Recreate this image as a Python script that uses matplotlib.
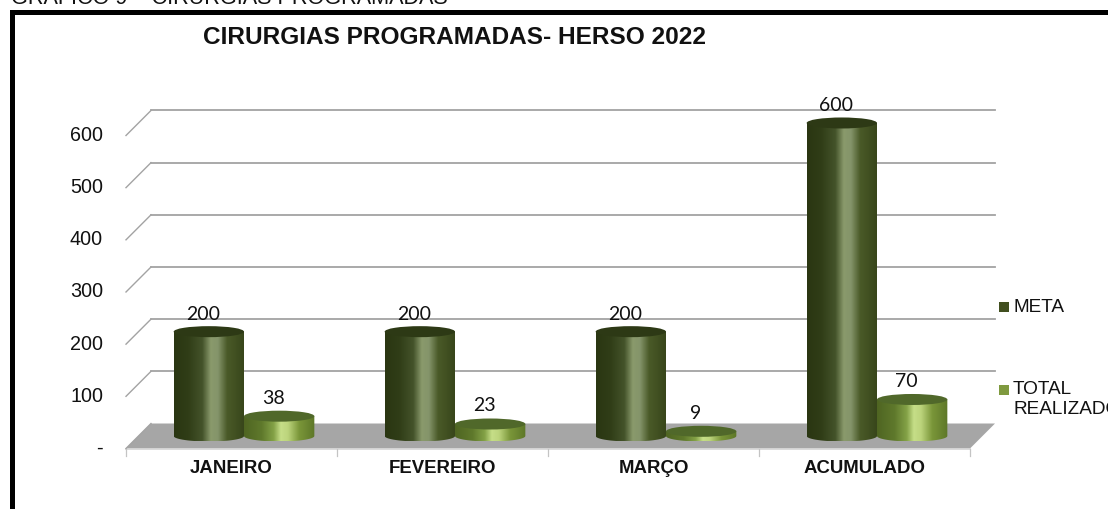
import numpy as np
import matplotlib
matplotlib.use('Agg')
import matplotlib.pyplot as plt
from matplotlib.patches import Ellipse, PathPatch, Polygon, Rectangle
from matplotlib.path import Path
from matplotlib.colors import LinearSegmentedColormap

categories = ['JANEIRO', 'FEVEREIRO', 'MARÇO', 'ACUMULADO']
meta = [200, 200, 200, 600]
realizado = [38, 23, 9, 70]
y_ticks = [0, 100, 200, 300, 400, 500, 600]
y_tick_labels = ['-', '100', '200', '300', '400', '500', '600']

W, H = 1108, 509
PX_CAT = 211.0      # pixels for one category
PX_VAL = 0.5217     # pixels for one unit of value
X0 = 138.5          # pixel x of category edge 0, mid depth
Y0 = 436.0          # pixel y of value 0, mid depth
DEPTH = 12.5        # half the depth of the floor, pixels

plt.rcParams['font.family'] = ['Liberation Sans', 'DejaVu Sans']

fig = plt.figure(figsize=(W / 100, H / 100), dpi=100)
ax = fig.add_axes([0, 0, 1, 1])
ax.set_xlim(-X0 / PX_CAT, (W - X0) / PX_CAT)
ax.set_ylim((Y0 - H) / PX_VAL, Y0 / PX_VAL)
ax.axis('off')

dx = DEPTH / PX_CAT
dy = DEPTH / PX_VAL
n = len(categories)


# pixel position to axes data, for the things outside the plot
def px(x, y):
    return (x - X0) / PX_CAT, (Y0 - y) / PX_VAL


# ================== frame and header ==================
ax.add_patch(Rectangle(px(9.5, H), 5.5 / PX_CAT, (H - 10) / PX_VAL, color='black', lw=0, zorder=1))
ax.add_patch(Rectangle(px(9.5, 15), (W - 9.5) / PX_CAT, 5 / PX_VAL, color='black', lw=0, zorder=1))
ax.text(*px(11, 4.3), 'GRÁFICO 9 – CIRURGIAS PROGRAMADAS', fontsize=15.6,
        ha='left', va='baseline', color='#111111')
ax.text(*px(203, 37), 'CIRURGIAS PROGRAMADAS- HERSO 2022', fontsize=17.6,
        fontweight='bold', ha='left', va='center', color='#111111')

# ================== floor and grid ====================
ax.add_patch(Polygon([(-dx, -dy), (n - dx, -dy), (n + dx, dy), (dx, dy)],
                     closed=True, facecolor='#a6a6a6', edgecolor='none', zorder=2))
ax.plot([-dx, n - dx], [-dy, -dy], color='#d4d4d4', lw=1.2, zorder=2)
for v in y_ticks:
    if v > 0:
        ax.plot([dx, n + dx], [v + dy, v + dy], color='#a3a3a3', lw=1.3, zorder=2)
    ax.plot([-dx, dx], [v - dy, v + dy], color='#a3a3a3', lw=1.0, zorder=2)
for i in range(n + 1):
    ax.plot([i - dx, i - dx], [-dy, -dy - 7 / PX_VAL], color='#c4c4c4', lw=0.9, zorder=2)

for v, lab in zip(y_ticks, y_tick_labels):
    ax.text(-dx - 23 / PX_CAT, v - dy, lab, fontsize=14.2, ha='right', va='center',
            color='#111111')
for i, lab in enumerate(categories):
    ax.text(i + 0.5 - dx, -dy - 20 / PX_VAL, lab, fontsize=13.4, fontweight='bold',
            ha='center', va='center', color='#111111')

# ================== cylinders =========================
cm_meta = LinearSegmentedColormap.from_list('meta', [
    (0.0, '#2a3612'), (0.2, '#303d17'), (0.4, '#44532a'), (0.52, '#8a9a6c'),
    (0.62, '#84946a'), (0.75, '#4a5a28'), (1.0, '#37451a')])
cm_real = LinearSegmentedColormap.from_list('real', [
    (0.0, '#4f6522'), (0.25, '#5f792c'), (0.42, '#84a247'), (0.52, '#c6de88'),
    (0.62, '#bcd47c'), (0.78, '#7a9639'), (1.0, '#5d7728')])
top_meta = '#2d3915'
top_real = '#50682a'
rim_px = 5.5
grad = np.linspace(0, 1, 256).reshape(1, -1)


def cylinder(center, value, cmap, top_color, zorder):
    half = 1 / 6
    rim = rim_px / PX_VAL
    t = np.linspace(np.pi, 2 * np.pi, 40)
    xs = center + half * np.cos(t)
    ys = rim * np.sin(t)
    verts = list(zip(xs, ys)) + [(center + half, value), (center - half, value), (xs[0], ys[0])]
    body = PathPatch(Path(verts), transform=ax.transData, facecolor='none', edgecolor='none')
    ax.add_patch(body)
    im = ax.imshow(grad, cmap=cmap, aspect='auto', zorder=zorder, interpolation='bilinear',
                   extent=(center - half, center + half, -rim, value))
    im.set_clip_path(body)
    ax.add_patch(Ellipse((center, value), 2 * half, 2 * rim, facecolor=top_color,
                         edgecolor='none', zorder=zorder + 0.1))


xlim, ylim = ax.get_xlim(), ax.get_ylim()
for i in range(n):
    cylinder(i + 1 / 3, meta[i], cm_meta, top_meta, 3)
    cylinder(i + 2 / 3, realizado[i], cm_real, top_real, 3.5)
    # the labels sit a little left of the bars in the original
    ax.annotate(str(meta[i]), (i + 1 / 3, meta[i]), xytext=(-4, 12.5), textcoords='offset points',
                ha='center', va='center', fontsize=14, family='Lato', color='#111111', zorder=5)
    ax.annotate(str(realizado[i]), (i + 2 / 3, realizado[i]), xytext=(-4, 13),
                textcoords='offset points', ha='center', va='center', fontsize=14,
                family='Lato', color='#111111', zorder=5)
ax.set_xlim(xlim)
ax.set_ylim(ylim)

# ================== legend ============================
ax.add_patch(Rectangle(px(999, 312), 10 / PX_CAT, 10 / PX_VAL, color='#414f1f', lw=0, zorder=4))
ax.text(*px(1013, 307), 'META', fontsize=13.7, ha='left', va='center', color='#111111')
ax.add_patch(Rectangle(px(999, 395), 10 / PX_CAT, 10 / PX_VAL, color='#7f9a3f', lw=0, zorder=4))
ax.text(*px(1013, 390), 'TOTAL', fontsize=13.7, ha='left', va='center', color='#111111')
ax.text(*px(1013, 410), 'REALIZADO', fontsize=13.7, ha='left', va='center', color='#111111')

fig.savefig('out.png', dpi=100)
